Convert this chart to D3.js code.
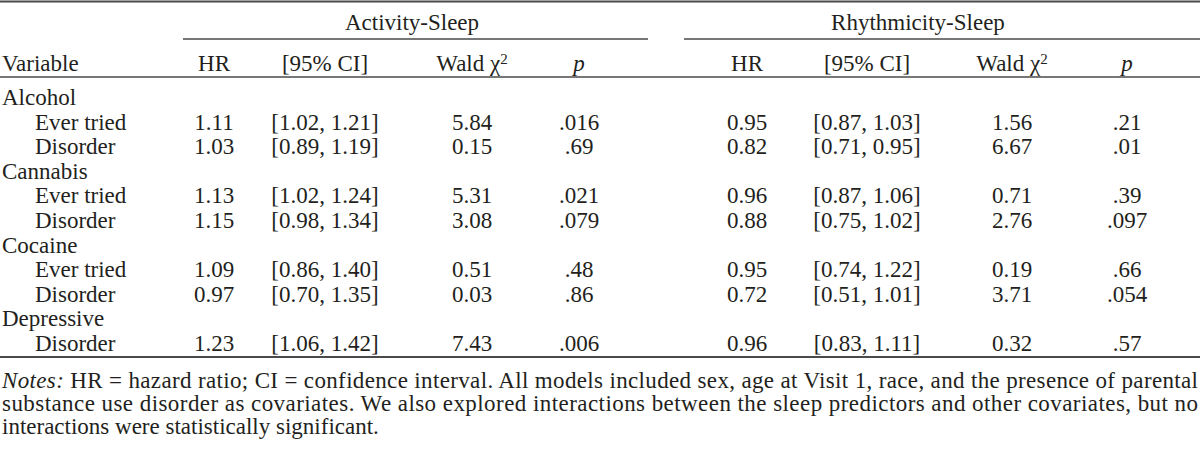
<!DOCTYPE html>
<html>
<head>
<meta charset="utf-8">
<script src="https://cdn.jsdelivr.net/npm/d3@7"></script>
<style>
  body { margin: 0; background: #fff; }
  svg { display: block; }
</style>
</head>
<body>
<svg id="table"></svg>
<script>
// table content
const panels = ["Activity-Sleep", "Rhythmicity-Sleep"];
const groups = ["Alcohol", "Cannabis", "Cocaine", "Depressive"];
const groupItems = [["Ever tried", "Disorder"], ["Ever tried", "Disorder"], ["Ever tried", "Disorder"], ["Disorder"]];

// Activity-Sleep, one entry per item row
const hrA   = ["1.11", "1.03", "1.13", "1.15", "1.09", "0.97", "1.23"];
const ciA   = ["[1.02, 1.21]", "[0.89, 1.19]", "[1.02, 1.24]", "[0.98, 1.34]", "[0.86, 1.40]", "[0.70, 1.35]", "[1.06, 1.42]"];
const waldA = ["5.84", "0.15", "5.31", "3.08", "0.51", "0.03", "7.43"];
const pA    = [".016", ".69", ".021", ".079", ".48", ".86", ".006"];

// Rhythmicity-Sleep
const hrR   = ["0.95", "0.82", "0.96", "0.88", "0.95", "0.72", "0.96"];
const ciR   = ["[0.87, 1.03]", "[0.71, 0.95]", "[0.87, 1.06]", "[0.75, 1.02]", "[0.74, 1.22]", "[0.51, 1.01]", "[0.83, 1.11]"];
const waldR = ["1.56", "6.67", "0.71", "2.76", "0.19", "3.71", "0.32"];
const pR    = [".21", ".01", ".39", ".097", ".66", ".054", ".57"];

const notesLines = [
  "HR = hazard ratio; CI = confidence interval. All models included sex, age at Visit 1, race, and the presence of parental",
  "substance use disorder as covariates. We also explored interactions between the sleep predictors and other covariates, but no",
  "interactions were statistically significant."
];

const W = 1200, H = 464;
const font = "'Liberation Serif', 'Times New Roman', serif";
const fs = 23;
const ink = "#231f20";
const rule = "#4a4a4a";

const svg = d3.select("#table")
    .attr("width", W)
    .attr("height", H)
    .style("font-family", font)
    .style("font-size", fs + "px")
    .attr("fill", ink);

// build row list
let rows = [];
let k = 0;
groups.forEach((g, gi) => {
  rows.push({ label: g, indent: false });
  groupItems[gi].forEach(it => {
    rows.push({ label: it, indent: true, vals: [hrA[k], ciA[k], waldA[k], pA[k], hrR[k], ciR[k], waldR[k], pR[k]] });
    k++;
  });
});

const colKeys = ["hrA", "ciA", "waldA", "pA", "hrR", "ciR", "waldR", "pR"];
const xCol = d3.scaleOrdinal()
    .domain(colKeys)
    .range([214, 325, 472, 579, 747, 867, 1012, 1127]);

const yRow = d3.scaleLinear()
    .domain([0, rows.length - 1])
    .range([97, 343]);

// rules
function hline(x1, x2, y, w) {
  svg.append("line")
    .attr("x1", x1).attr("x2", x2)
    .attr("y1", y).attr("y2", y)
    .attr("stroke", rule)
    .attr("stroke-width", w);
}
hline(0, W, 1.5, 2);
hline(183, 648, 39, 1.5);
hline(684, W, 39, 1.5);
hline(0, W, 77, 1.5);
hline(0, W, 357, 2);

// panel headers
const panelX = [412, 918];
svg.selectAll(".panel")
  .data(panels)
  .join("text")
    .attr("class", "panel")
    .attr("x", (d, i) => panelX[i])
    .attr("y", 22)
    .attr("dy", "0.35em")
    .attr("text-anchor", "middle")
    .text(d => d);

// column headers
const headY = 63;
svg.append("text")
    .attr("x", 2).attr("y", headY).attr("dy", "0.35em")
    .text("Variable");

colKeys.forEach((c, i) => {
  const t = svg.append("text")
      .attr("x", xCol(c))
      .attr("y", headY)
      .attr("dy", "0.35em")
      .attr("text-anchor", "middle");
  const kind = i % 4;
  if (kind === 0) t.text("HR");
  else if (kind === 1) t.text("[95% CI]");
  else if (kind === 2) {
    t.append("tspan").text("Wald \u03c7");
    t.append("tspan").attr("dy", "-0.45em").style("font-size", "15px").text("2");
  } else {
    t.style("font-style", "italic").text("p");
  }
});

// body rows
const rowG = svg.selectAll(".row")
  .data(rows)
  .join("g")
    .attr("class", "row")
    .attr("transform", (d, i) => `translate(0,${yRow(i)})`);

rowG.append("text")
    .attr("x", d => d.indent ? 35 : 2)
    .attr("dy", "0.35em")
    .text(d => d.label);

rowG.filter(d => d.vals)
  .selectAll(".cell")
  .data(d => d.vals)
  .join("text")
    .attr("class", "cell")
    .attr("x", (d, i) => xCol(colKeys[i]))
    .attr("dy", "0.35em")
    .attr("text-anchor", "middle")
    .text(d => d);

// notes, first two lines justified to full width
const noteY = [380, 403, 426];
notesLines.forEach((line, i) => {
  const t = svg.append("text")
      .attr("x", 2)
      .attr("y", noteY[i])
      .attr("dy", "0.35em");
  if (i === 0) {
    t.append("tspan").style("font-style", "italic").text("Notes:");
    t.append("tspan").text(" " + line);
  } else {
    t.text(line);
  }
  if (i < notesLines.length - 1) {
    t.attr("textLength", W - 4).attr("lengthAdjust", "spacing");
  }
});
</script>
</body>
</html>
